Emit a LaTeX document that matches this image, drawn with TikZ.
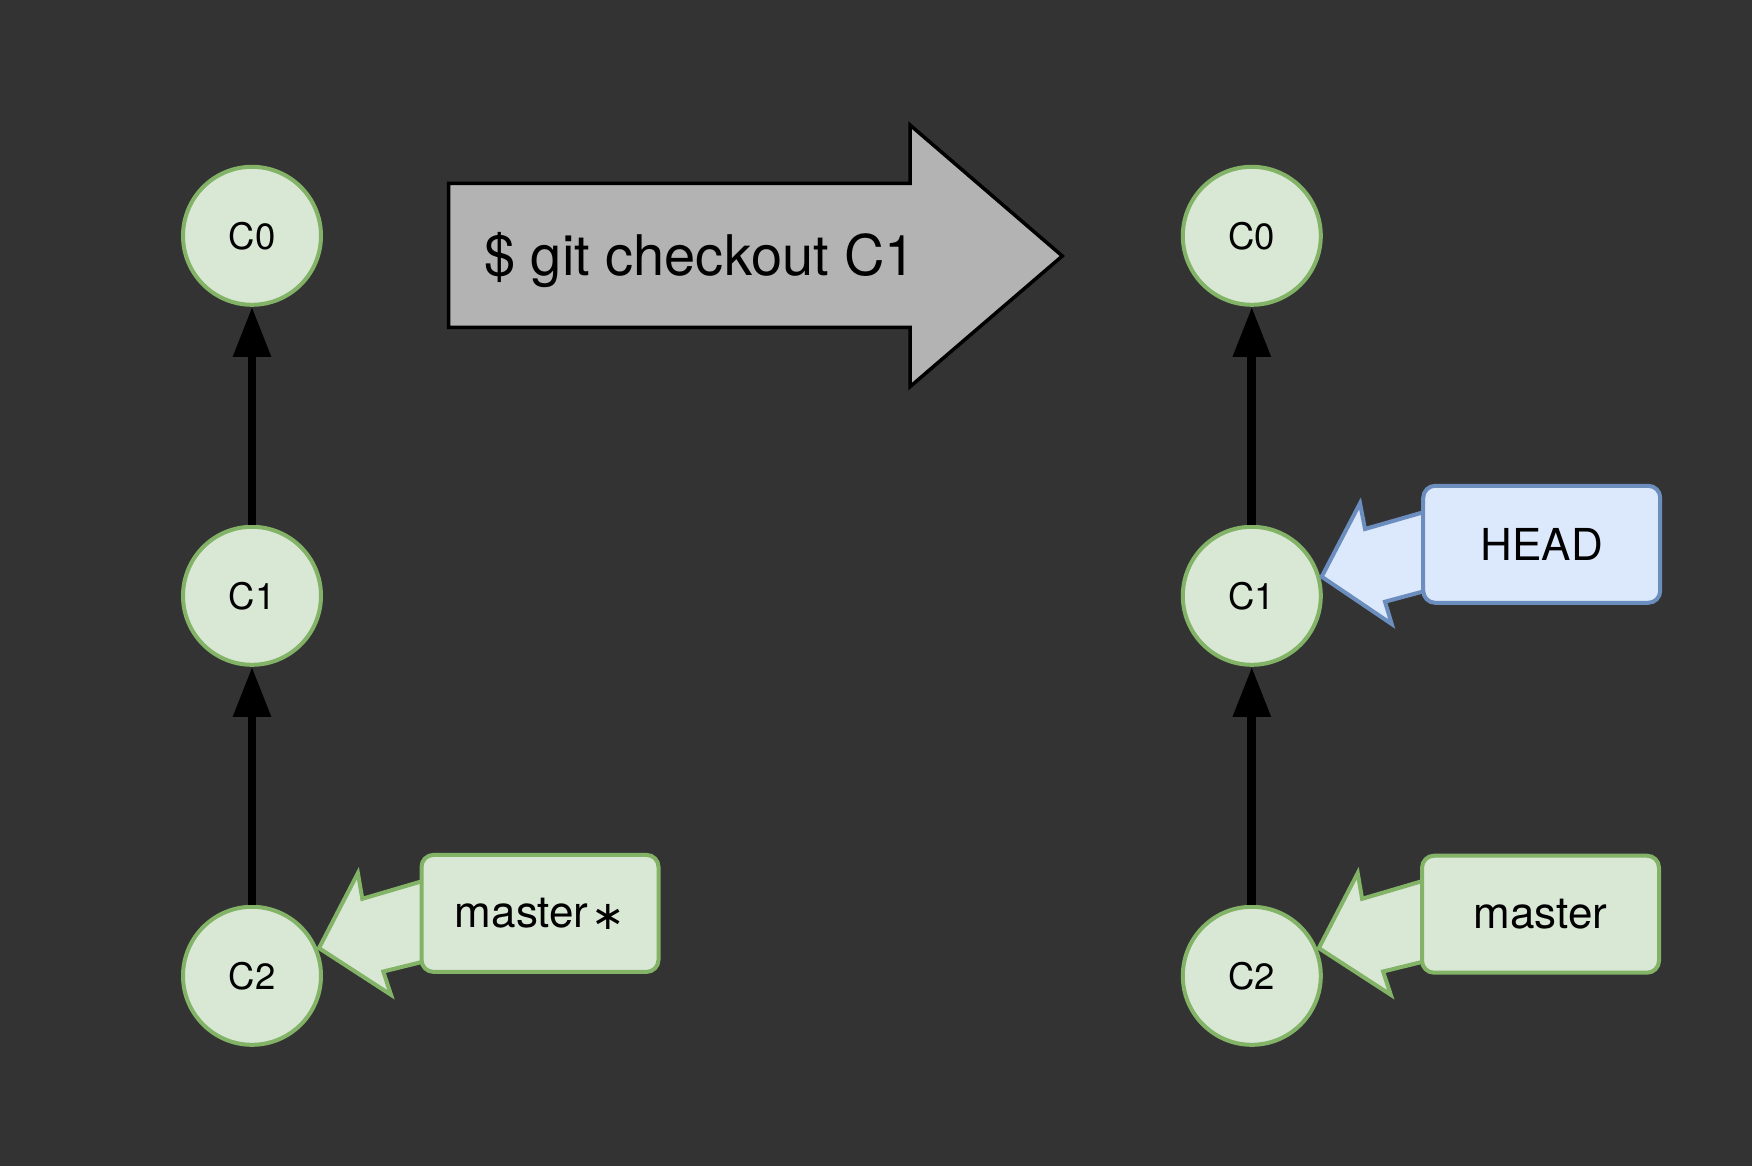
\documentclass[tikz,border=0pt]{standalone}
\usepackage{fontspec}
\setmainfont{TeX Gyre Heros}
\newfontfamily\djv{DejaVu Sans}
\usetikzlibrary{arrows.meta}
\definecolor{bg}{HTML}{333333}
\definecolor{gfill}{HTML}{D9E7D5}
\definecolor{gline}{HTML}{82B366}
\definecolor{bfill}{HTML}{DCE8FB}
\definecolor{bline}{HTML}{6C8EBF}
\definecolor{afill}{HTML}{B3B3B3}
\begin{document}
\begin{tikzpicture}[x=1pt,y=-1pt,
  commit/.style={circle, draw=gline, fill=gfill, line width=4pt, minimum size=138pt, inner sep=0pt, text=black, font=\fontsize{36.5}{44}\selectfont},
  refbox/.style={rectangle, rounded corners=12pt, draw=gline, fill=gfill, line width=4pt, minimum width=237pt, minimum height=117pt, inner sep=0pt, text=black, font=\fontsize{44}{52}\selectfont},
  headbox/.style={refbox, draw=bline, fill=bfill},
  edge/.style={draw=black, line width=8.7pt, -{Triangle[length=50pt,width=36pt]}},
  ptrg/.style={draw=gline, fill=gfill, line width=4pt, line join=miter},
  ptrb/.style={draw=bline, fill=bfill, line width=4pt, line join=miter}]
\fill[bg] (0,0) rectangle (1752,1166);
\useasboundingbox (0,0) rectangle (1752,1166);
% command arrow
\draw[fill=afill, line width=3.5pt, line join=miter] (448.7,183.3) -- (910,183.3) -- (910,125) -- (1062.3,256) -- (910,386.7) -- (910,327.3) -- (448.7,327.3) -- cycle;
\node[anchor=base west, inner sep=0pt, text=black, font=\fontsize{56}{64}\selectfont] (cmd) at (484,276) {\$ git checkout C1};
% left commits
\node[commit] (c0l) at (252,235.8) {C0};
\node[commit] (c1l) at (252,595.8) {C1};
\node[commit] (c2l) at (252,975.8) {C2};
\draw[edge] (c1l) -- (c0l);
\draw[edge] (c2l) -- (c1l);
% right commits
\node[commit] (c0r) at (1251.8,235.8) {C0};
\node[commit] (c1r) at (1251.8,595.8) {C1};
\node[commit] (c2r) at (1251.8,975.8) {C2};
\draw[edge] (c1r) -- (c0r);
\draw[edge] (c2r) -- (c1r);
% pointers
\begin{scope}[shift={(c2l.center)}]
\draw[ptrg] (185,-99) -- (110.3,-77) -- (105.9,-102.7) -- (67,-27.7) -- (139,19) -- (131.3,-4.3) -- (185,-17.5) -- cycle;
\end{scope}
\begin{scope}[shift={(c2r.center)}]
\draw[ptrg] (185,-99) -- (110.3,-77) -- (105.9,-102.7) -- (67,-27.7) -- (139,19) -- (131.3,-4.3) -- (185,-17.5) -- cycle;
\end{scope}
\begin{scope}[shift={(c1r.center)}]
\draw[ptrb] (187,-88) -- (113.2,-66.8) -- (108.2,-92.5) -- (69.9,-19.1) -- (139.9,28.2) -- (133.2,5.9) -- (187,-8.5) -- cycle;
\end{scope}
% label boxes
\node[refbox] (masterl) at (540,913.4) {master\kern3pt\raisebox{-2pt}{\fontsize{40}{48}\djv ∗}};
\node[refbox] (masterr) at (1540.5,914.2) {master};
\node[headbox] (head) at (1541.7,544.3) {HEAD};
\end{tikzpicture}
\end{document}
